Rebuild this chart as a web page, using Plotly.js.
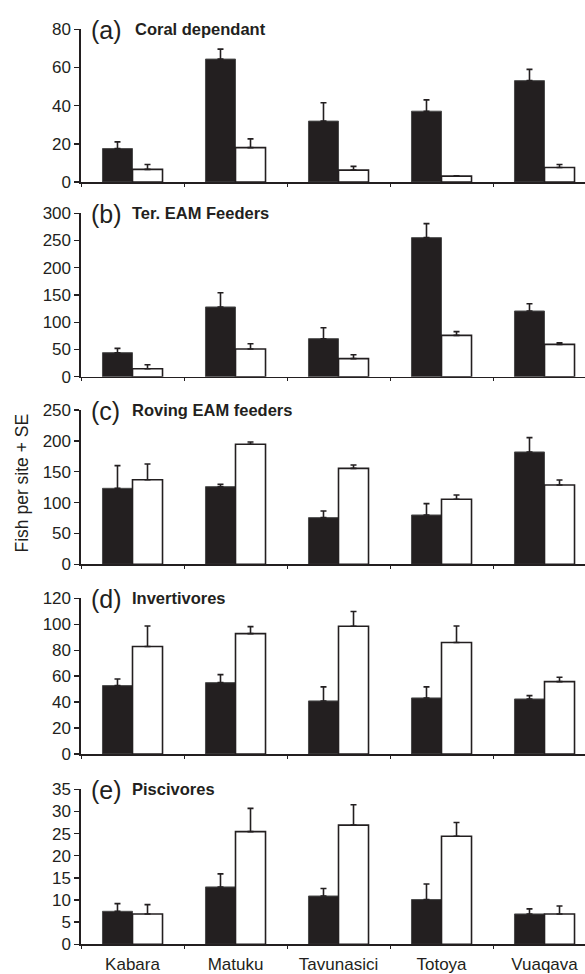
<!DOCTYPE html>
<html>
<head>
<meta charset="utf-8">
<script src="https://cdn.plot.ly/plotly-3.0.1.min.js"></script>
<style>html,body{margin:0;padding:0;background:#fff;}#chart{width:585px;height:974px;}</style>
</head>
<body>
<div id="chart"></div>
<script>
// ---- data ----
const islands = ['Kabara', 'Matuku', 'Tavunasici', 'Totoya', 'Vuaqava'];
const panelLetters = ['(a)', '(b)', '(c)', '(d)', '(e)'];
const panelTitles = ['Coral dependant', 'Ter. EAM Feeders', 'Roving EAM feeders', 'Invertivores', 'Piscivores'];
const yMax = [80, 300, 250, 120, 35];
const yStep = [20, 50, 50, 20, 5];

const coralBlack = [17.5, 64.4, 31.9, 37.1, 53.1];
const coralBlackSE = [3.5, 5.2, 9.6, 5.9, 5.9];
const coralWhite = [6.6, 18.0, 6.2, 3.1, 7.6];
const coralWhiteSE = [2.6, 4.6, 2.0, 0.2, 1.6];

const terBlack = [44.1, 128, 69.8, 255.3, 120.6];
const terBlackSE = [7.9, 26, 20.2, 25.7, 13.4];
const terWhite = [14.7, 50.8, 33.1, 75.9, 59.4];
const terWhiteSE = [7.3, 9.8, 7.3, 6.8, 3.0];

const rovBlack = [123.1, 125.8, 75.6, 79.9, 182];
const rovBlackSE = [36.7, 3.8, 10.8, 18.4, 23.2];
const rovWhite = [137.1, 194.4, 155.5, 105.3, 128.5];
const rovWhiteSE = [25.4, 3.8, 5.4, 7.0, 8.1];

const invBlack = [52.7, 55.0, 40.9, 43.2, 42.4];
const invBlackSE = [5.1, 6.2, 10.8, 8.5, 2.6];
const invWhite = [82.8, 92.8, 98.5, 85.9, 55.8];
const invWhiteSE = [15.9, 5.4, 11.3, 12.8, 3.3];

const pisBlack = [7.45, 12.95, 10.9, 10.1, 6.85];
const pisBlackSE = [1.74, 2.95, 1.7, 3.5, 1.15];
const pisWhite = [6.85, 25.45, 26.9, 24.4, 6.85];
const pisWhiteSE = [2.11, 5.25, 4.6, 3.1, 1.81];

const blackSeries = [coralBlack, terBlack, rovBlack, invBlack, pisBlack];
const blackSE = [coralBlackSE, terBlackSE, rovBlackSE, invBlackSE, pisBlackSE];
const whiteSeries = [coralWhite, terWhite, rovWhite, invWhite, pisWhite];
const whiteSE = [coralWhiteSE, terWhiteSE, rovWhiteSE, invWhiteSE, pisWhiteSE];

// ---- layout geometry (pixels) ----
const W = 585, H = 974;
const panelTopPx = [29.3, 213.3, 410, 598.3, 789.3];
const panelBotPx = [182, 376.7, 564.3, 754, 944.3];
const titleLeftPx = [133, 130, 130, 130, 130];
const axisLeftPx = 81;
const ink = '#231f20';
const font = 'Liberation Sans, Arial, Helvetica, sans-serif';

const traces = [];
const layout = {
  width: W, height: H,
  margin: {l: 0, r: 0, t: 0, b: 0, pad: 0},
  paper_bgcolor: '#fff', plot_bgcolor: 'rgba(0,0,0,0)',
  showlegend: false,
  barmode: 'group', bargap: 0.417, bargroupgap: 0,
  font: {family: font, color: ink, size: 16},
  annotations: []
};

for (let i = 0; i < 5; i++) {
  const n = i === 0 ? '' : String(i + 1);
  const xa = 'x' + n, ya = 'y' + n;
  const zeros = [0, 0, 0, 0, 0];
  traces.push({
    type: 'bar', x: islands, y: blackSeries[i], xaxis: xa, yaxis: ya,
    marker: {color: ink, line: {color: '#4a4a4a', width: 1}},
    error_y: {type: 'data', array: blackSE[i], arrayminus: zeros, symmetric: false,
              color: ink, thickness: 1.6, width: 3}
  });
  traces.push({
    type: 'bar', x: islands, y: whiteSeries[i], xaxis: xa, yaxis: ya,
    marker: {color: '#ffffff', line: {color: ink, width: 1.6}},
    error_y: {type: 'data', array: whiteSE[i], arrayminus: zeros, symmetric: false,
              color: ink, thickness: 1.6, width: 3}
  });
  layout['xaxis' + n] = {
    domain: [axisLeftPx / W, 1], anchor: ya, type: 'category',
    range: [-0.5, -0.5 + (W - axisLeftPx) / 103],
    showline: true, linecolor: ink, linewidth: 1.6,
    ticks: 'outside', tickson: 'boundaries', ticklen: 3, tickwidth: 1, tickcolor: ink,
    ticklabelstandoff: 4,
    showticklabels: i === 4, tickfont: {size: 17, color: ink, family: font},
    showgrid: false, zeroline: false, automargin: false, fixedrange: true
  };
  layout['yaxis' + n] = {
    domain: [1 - panelBotPx[i] / H, 1 - panelTopPx[i] / H], anchor: xa,
    range: [0, yMax[i]], dtick: yStep[i], tick0: 0,
    showline: true, linecolor: ink, linewidth: 1.6,
    ticks: 'outside', ticklen: 5, tickwidth: 1.4, tickcolor: ink,
    tickfont: {size: 17, color: ink, family: font},
    showgrid: false, zeroline: false, automargin: false, fixedrange: true
  };
  layout.annotations.push({
    text: panelLetters[i], xref: 'paper', x: 89 / W, xanchor: 'left',
    yref: ya + ' domain', y: 1, yanchor: 'middle', yshift: -1,
    showarrow: false, font: {size: 25, color: ink, family: font}
  });
  layout.annotations.push({
    text: '<b>' + panelTitles[i] + '</b>', xref: 'paper', x: titleLeftPx[i] / W, xanchor: 'left',
    yref: ya + ' domain', y: 1, yanchor: 'middle', yshift: 0,
    showarrow: false, font: {size: 16.5, color: ink, family: font}
  });
}

layout.annotations.push({
  text: 'Fish per site + SE', xref: 'paper', yref: 'paper',
  x: 21 / W, y: 1 - 483.5 / H, xanchor: 'center', yanchor: 'middle',
  textangle: -90, showarrow: false, font: {size: 17.5, color: ink, family: font}
});

Plotly.newPlot('chart', traces, layout, {displayModeBar: false, staticPlot: true});
</script>
</body>
</html>
